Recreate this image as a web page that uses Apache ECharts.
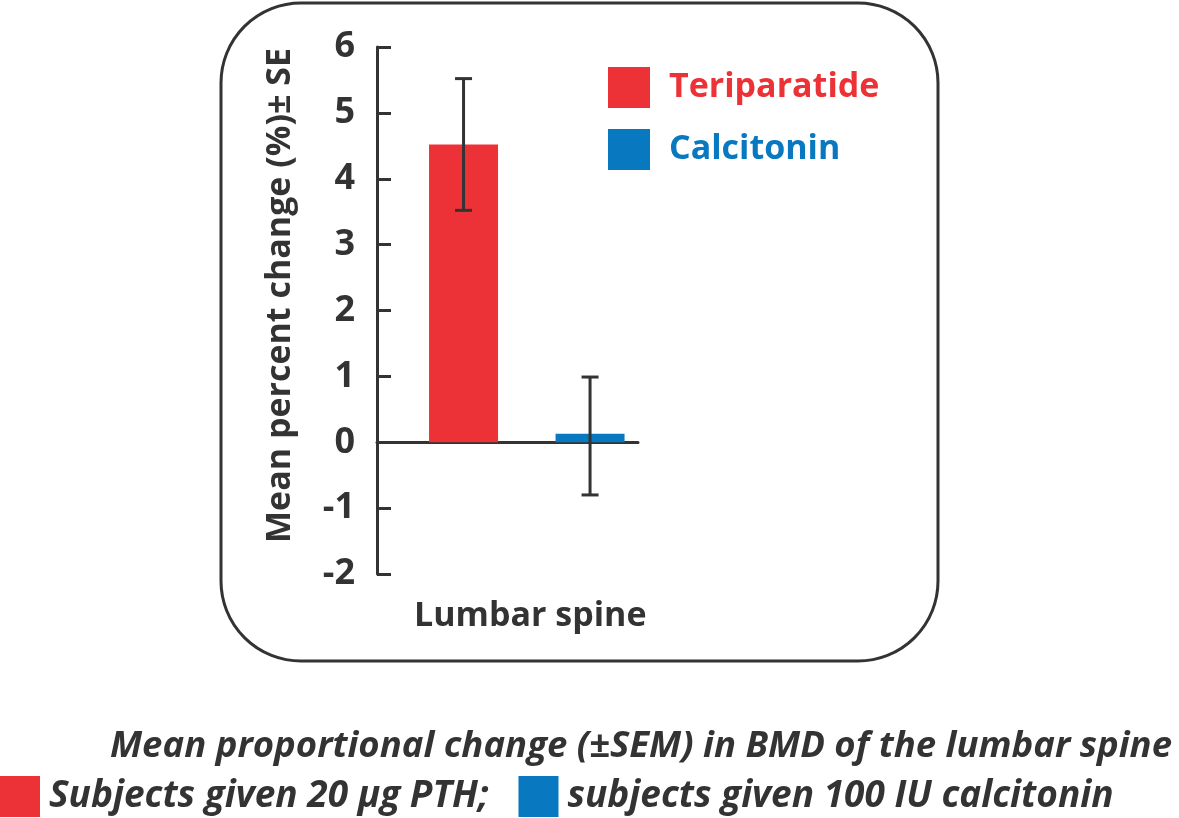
<!DOCTYPE html>
<html>
<head>
<meta charset="utf-8">
<script src="https://cdn.jsdelivr.net/npm/echarts@6/dist/echarts.min.js"></script>
<style>
html,body{margin:0;padding:0;background:#fff;}
#main{width:1179px;height:818px;}
</style>
</head>
<body>
<div id="main"></div>
<script>
// ---- data ----
const categories = ['Teriparatide', 'Calcitonin'];
const meanChange = [4.52, 0.13];
const errLow = [3.52, -0.80];
const errHigh = [5.52, 0.99];
const yTicks = [-2, -1, 0, 1, 2, 3, 4, 5, 6];
const captionLabels = ['Subjects given 20 \u00B5g PTH;', 'subjects given 100 IU calcitonin'];
const colors = ['#EC3237', '#0878C0'];

const FONT = '"Open Sans", "DejaVu Sans", sans-serif';
const DARK = '#333333';

const chart = echarts.init(document.getElementById('main'), null, {renderer: 'canvas'});

const barSeries = categories.map((name, i) => ({
  name: name,
  type: 'bar',
  barWidth: 69,
  barGap: '-100%',
  itemStyle: {color: colors[i]},
  data: [[i + 1, meanChange[i]]],
  z: 2
}));

const errorSeries = {
  type: 'custom',
  name: 'error',
  z: 5,
  data: categories.map((c, i) => [i + 1, errLow[i], errHigh[i]]),
  renderItem: function (params, api) {
    const x = api.value(0);
    const lo = api.coord([x, api.value(1)]);
    const hi = api.coord([x, api.value(2)]);
    const hw = 8.5;
    const style = {stroke: DARK, lineWidth: 3};
    return {
      type: 'group',
      children: [
        {type: 'line', shape: {x1: lo[0], y1: lo[1], x2: hi[0], y2: hi[1]}, style: style},
        {type: 'line', shape: {x1: lo[0] - hw, y1: lo[1], x2: lo[0] + hw, y2: lo[1]}, style: style},
        {type: 'line', shape: {x1: hi[0] - hw, y1: hi[1], x2: hi[0] + hw, y2: hi[1]}, style: style}
      ]
    };
  }
};

const option = {
  backgroundColor: '#ffffff',
  animation: false,
  textStyle: {fontFamily: FONT},
  graphic: [{
    type: 'rect',
    shape: {x: 221, y: 3, width: 717, height: 658, r: 80},
    style: {fill: 'none', stroke: DARK, lineWidth: 3},
    z: 0, silent: true
  }],
  title: [
    {
      text: 'Lumbar spine',
      left: 409, top: 594,
      textStyle: {fontFamily: FONT, fontSize: 34, fontWeight: 'bold', color: DARK}
    },
    {
      text: 'Mean proportional change (\u00B1SEM) in BMD of the lumbar spine',
      right: 2, top: 723,
      textStyle: {fontFamily: FONT, fontSize: 36.5, fontWeight: 'bold', fontStyle: 'italic', color: DARK}
    }
  ],
  legend: [
    {
      orient: 'vertical',
      left: 608, top: 67, padding: 0,
      itemWidth: 42, itemHeight: 41, itemGap: 21,
      icon: 'rect',
      data: categories.map((c, i) => ({name: c, textStyle: {color: colors[i]}})),
      textStyle: {fontFamily: FONT, fontSize: 34, fontWeight: 'bold', padding: [0, 0, 0, 14]}
    },
    {
      orient: 'horizontal',
      left: 0, top: 776, padding: 0,
      itemWidth: 40, itemHeight: 41, itemGap: 30,
      icon: 'rect',
      data: categories.slice(),
      formatter: function (name) { return captionLabels[categories.indexOf(name)]; },
      textStyle: {fontFamily: FONT, fontSize: 37, fontWeight: 'bold', fontStyle: 'italic', color: DARK, padding: [0, 0, 0, 4]}
    }
  ],
  grid: {left: 377, top: 47, right: 541, bottom: 244, containLabel: false},
  xAxis: {
    type: 'value',
    min: 0.316, max: 2.379,
    axisLine: {show: true, onZero: true, lineStyle: {color: DARK, width: 3}},
    axisTick: {show: false},
    axisLabel: {show: false},
    splitLine: {show: false}
  },
  yAxis: {
    type: 'value',
    min: yTicks[0], max: yTicks[yTicks.length - 1], interval: 1,
    name: 'Mean percent change (%)\u00B1 SE',
    nameLocation: 'middle',
    nameGap: 80,
    nameTextStyle: {fontFamily: FONT, fontSize: 34, fontWeight: 'bold', color: DARK, padding: [0, 0, 0, 30]},
    axisLine: {show: true, lineStyle: {color: DARK, width: 3}},
    axisTick: {show: true, inside: true, length: 14, lineStyle: {color: DARK, width: 3}},
    axisLabel: {fontFamily: FONT, fontSize: 36, fontWeight: 'bold', color: DARK, margin: 22},
    splitLine: {show: false}
  },
  series: barSeries.concat([errorSeries])
};

chart.setOption(option);
</script>
</body>
</html>
